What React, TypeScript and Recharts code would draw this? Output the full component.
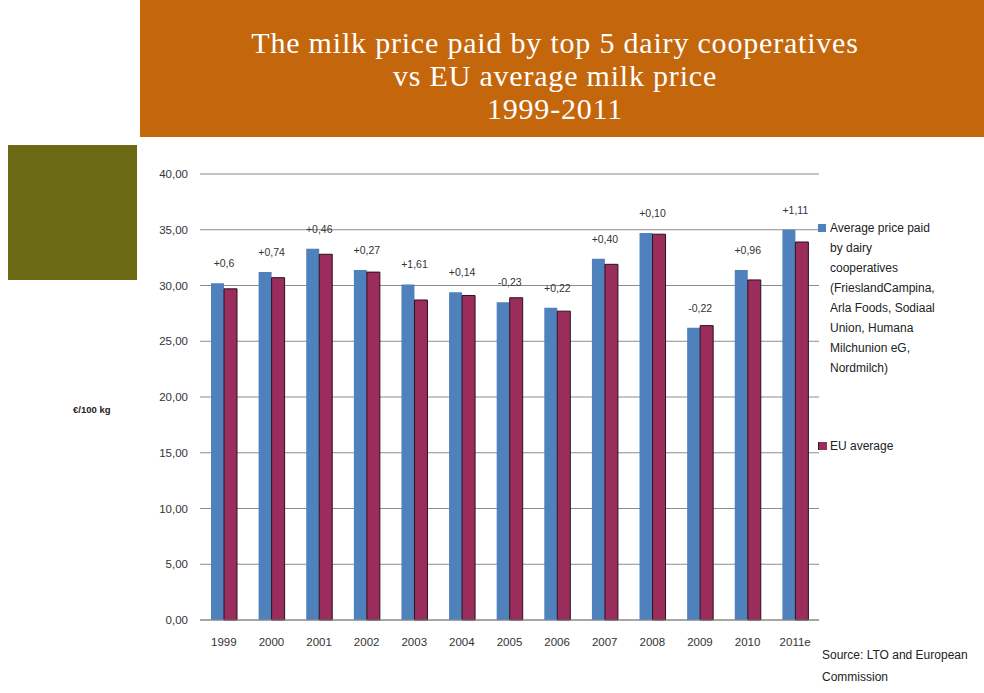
import { BarChart, Bar, XAxis, YAxis, CartesianGrid, LabelList } from 'recharts'

const years = ['1999', '2000', '2001', '2002', '2003', '2004', '2005', '2006', '2007', '2008', '2009', '2010', '2011e']
const coopPrice = [30.2, 31.2, 33.3, 31.4, 30.1, 29.4, 28.5, 28.0, 32.4, 34.7, 26.2, 31.4, 35.0]
const euAverage = [29.7, 30.7, 32.8, 31.2, 28.7, 29.1, 28.9, 27.7, 31.9, 34.6, 26.4, 30.5, 33.9]
const diffLabels = ['+0,6', '+0,74', '+0,46', '+0,27', '+1,61', '+0,14', '-0,23', '+0,22', '+0,40', '+0,10', '-0,22', '+0,96', '+1,11']
const yTicks = [0, 5, 10, 15, 20, 25, 30, 35, 40]

const coopLines = [
  'Average price paid',
  'by dairy',
  'cooperatives',
  '(FrieslandCampina,',
  'Arla Foods, Sodiaal',
  'Union, Humana',
  'Milchunion eG,',
  'Nordmilch)',
]

const BLUE = '#4f81bd'
const RED = '#9b2d5c'

const data = years.map((year, i) => ({
  year,
  coop: coopPrice[i],
  eu: euAverage[i],
  diff: diffLabels[i],
}))

const fmt = (v: number) => v.toFixed(2).replace('.', ',')

function DiffLabel(props: any) {
  const { x, y, width, index } = props
  return (
    <text
      x={x + width}
      y={y - 16}
      textAnchor="middle"
      fontSize={10.5}
      fill="#333"
      fontFamily="'Liberation Sans', sans-serif"
    >
      {diffLabels[index]}
    </text>
  )
}

function LegendBox() {
  return (
    <div style={{ position: 'absolute', left: 818, top: 218, width: 200, fontSize: 12, color: '#222' }}>
      <div style={{ position: 'relative', lineHeight: '20px' }}>
        <div style={{ position: 'absolute', left: 0, top: 6, width: 8, height: 8, background: BLUE }} />
        {coopLines.map((l) => (
          <div key={l} style={{ paddingLeft: 12, whiteSpace: 'nowrap' }}>
            {l}
          </div>
        ))}
      </div>
      <div style={{ position: 'relative', lineHeight: '20px', marginTop: 58 }}>
        <div style={{ position: 'absolute', left: 0, top: 6, width: 8, height: 8, background: RED, borderLeft: '1px solid #222' }} />
        <div style={{ paddingLeft: 12 }}>EU average</div>
      </div>
    </div>
  )
}

export default function App() {
  return (
    <div
      style={{
        position: 'absolute',
        left: 0,
        top: 0,
        width: 984,
        height: 693,
        overflow: 'hidden',
        background: '#fff',
        fontFamily: "'Liberation Sans', sans-serif",
      }}
    >
      <div
        style={{
          position: 'absolute',
          left: 140,
          top: 0,
          width: 844,
          height: 137,
          background: '#c4660c',
        }}
      />
      <div
        style={{
          position: 'absolute',
          left: 140,
          top: 26,
          width: 830,
          textAlign: 'center',
          color: '#fff',
          fontFamily: "'Liberation Serif', serif",
          fontSize: 30,
          letterSpacing: 0.8,
          lineHeight: '33px',
        }}
      >
        <div>The milk price paid by top 5 dairy cooperatives</div>
        <div>vs EU average milk price</div>
        <div>1999-2011</div>
      </div>
      <div style={{ position: 'absolute', left: 8, top: 145, width: 129, height: 135, background: '#6b6914' }} />

      <div style={{ position: 'absolute', left: 0, top: 0 }}>
        <BarChart
          width={984}
          height={693}
          data={data}
          margin={{ top: 174, right: 165, bottom: 43, left: 140 }}
          barSize={13}
          barGap={0}
        >
          <CartesianGrid vertical={false} stroke="#8c8c8c" />
          <XAxis
            dataKey="year"
            height={30}
            stroke="#888"
            tickLine={false}
            tick={{ fontSize: 11.5, fill: '#333' }}
            tickMargin={12}
            interval={0}
          />
          <YAxis
            width={60}
            domain={[0, 40]}
            ticks={yTicks}
            tickFormatter={fmt}
            axisLine={false}
            tickLine={false}
            tick={{ fontSize: 11.5, fill: '#333' }}
            tickMargin={6}
          />
          <Bar dataKey="coop" name="Average price paid by dairy cooperatives" fill={BLUE} isAnimationActive={false}>
            <LabelList dataKey="diff" content={<DiffLabel />} />
          </Bar>
          <Bar dataKey="eu" name="EU average" fill={RED} stroke="#2a0f1c" strokeWidth={1} isAnimationActive={false} />
        </BarChart>
      </div>

      <LegendBox />

      <div style={{ position: 'absolute', left: 73, top: 404, fontSize: 9.5, fontWeight: 'bold', color: '#222' }}>
        €/100 kg
      </div>
      <div style={{ position: 'absolute', left: 822, top: 644, fontSize: 12, color: '#222', lineHeight: '22px', width: 170 }}>
        Source: LTO and European
        <br />
        Commission
      </div>
    </div>
  )
}
